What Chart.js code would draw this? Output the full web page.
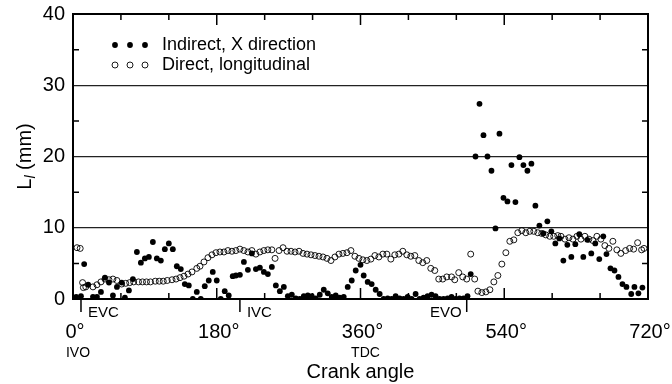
<!DOCTYPE html>
<html>
<head>
<meta charset="utf-8">
<script src="https://cdn.jsdelivr.net/npm/chart.js@4/dist/chart.umd.min.js"></script>
<style>
  body { margin: 0; background: #fff; }
  canvas { display: block; }
</style>
</head>
<body>
<canvas id="lengthChart" width="672" height="384"></canvas>
<script>
// Indirect, X direction (filled dots): crank angle in degrees, length scale in mm
const indirectAngle = [4, 10, 14, 19, 25, 30, 35, 40, 45, 50, 55, 61, 65, 70, 75, 80, 85, 90, 95, 100,
    105, 110, 115, 120, 125, 130, 135, 140, 145, 150, 155, 160, 165, 170, 175, 180, 185, 190, 195, 200,
    204, 209, 214, 219, 224, 229, 234, 239, 244, 249, 254, 259, 264, 269, 274, 279, 284, 289, 294, 299,
    304, 309, 314, 319, 324, 329, 334, 339, 344, 349, 354, 360, 364, 369, 374, 379, 384, 389, 394, 399,
    404, 409, 414, 419, 424, 429, 434, 439, 444, 449, 454, 459, 464, 469, 474, 479, 484, 489, 494, 498,
    504, 509, 514, 519, 524, 529, 534, 539, 544, 549, 554, 559, 564, 569, 574, 579, 584, 589, 594, 599,
    604, 609, 614, 619, 624, 629, 634, 639, 644, 649, 654, 659, 664, 668, 673, 678, 683, 688, 693, 699,
    703, 708, 713];
const indirectL = [0.3, 0.4, 4.9, 2.0, 0.3, 0.3, 1.0, 3.0, 2.3, 0.5, 1.7, 2.3, 0.2, 1.2, 2.8, 6.6, 5.1, 5.7, 5.9, 8.0,
    5.7, 5.4, 7.0, 7.8, 7.0, 4.6, 4.2, 2.1, 1.9, 0.0, 1.0, 0.0, 1.8, 2.6, 3.8, 2.6, 0.0, 1.1, 0.5, 3.2,
    3.3, 3.4, 5.2, 4.1, 6.4, 4.2, 4.4, 3.8, 3.5, 4.5, 1.9, 1.1, 1.7, 0.4, 0.6, 0.1, 0.0, 0.4, 0.5, 0.4,
    0.1, 0.6, 1.3, 0.8, 0.3, 0.5, 0.2, 0.3, 1.7, 2.6, 4.0, 4.8, 3.3, 2.4, 2.1, 1.3, 0.7, 0.0, 0.1, 0.0,
    0.4, 0.1, 0.0, 0.3, 0.0, 0.7, 0.0, 0.2, 0.4, 0.6, 0.4, 0.0, 0.0, 0.1, 0.3, 0.0, 0.1, 0.1, 0.4, 3.5,
    20.0, 27.4, 23.0, 20.0, 18.0, 9.9, 23.2, 14.2, 13.7, 18.8, 13.6, 19.9, 18.8, 18.0, 19.0, 13.1, 10.3, 9.2, 10.9, 9.5,
    7.8, 8.5, 5.4, 7.6, 5.9, 7.7, 9.1, 5.9, 8.3, 6.4, 7.8, 5.6, 8.8, 6.3, 4.3, 4.0, 3.1, 2.1, 1.7, 0.7,
    1.7, 0.8, 1.6];

// Direct, longitudinal (open circles)
const directAngle = [5, 9, 12, 13, 16, 25, 30, 35, 40, 45, 50, 55, 61, 66, 71, 76, 82, 87, 92, 97,
    103, 108, 113, 118, 124, 129, 134, 139, 144, 149, 155, 159, 164, 169, 174, 179, 184, 189, 194, 199,
    204, 209, 214, 219, 224, 229, 234, 239, 244, 249, 253, 258, 263, 268, 273, 278, 283, 288, 293, 298,
    303, 308, 313, 318, 323, 328, 333, 338, 343, 348, 353, 358, 363, 368, 373, 378, 383, 388, 393, 398,
    403, 408, 413, 418, 423, 428, 433, 438, 443, 448, 453, 458, 463, 468, 474, 478, 483, 488, 493, 498,
    503, 507, 512, 517, 522, 527, 532, 537, 542, 547, 552, 557, 562, 567, 572, 577, 582, 587, 592, 597,
    602, 607, 611, 616, 621, 626, 631, 636, 641, 646, 651, 656, 661, 666, 671, 676, 681, 686, 692, 697,
    702, 707, 712, 715];
const directL = [7.2, 7.1, 2.3, 1.6, 1.7, 1.7, 2.0, 2.4, 2.8, 2.7, 2.8, 2.6, 2.1, 2.2, 2.3, 2.4, 2.4, 2.4, 2.4, 2.4,
    2.5, 2.5, 2.5, 2.6, 2.7, 2.8, 3.0, 3.2, 3.5, 3.8, 4.3, 4.6, 5.2, 5.8, 6.2, 6.5, 6.6, 6.6, 6.8, 6.7,
    6.8, 7.0, 6.8, 6.6, 6.8, 6.3, 6.6, 6.8, 6.9, 6.9, 5.7, 6.8, 7.2, 6.7, 6.7, 6.6, 6.7, 6.4, 6.3, 6.2,
    6.1, 6.0, 5.9, 5.7, 5.4, 5.9, 6.3, 6.4, 6.5, 6.8, 6.0, 5.7, 5.5, 5.4, 5.6, 6.1, 5.9, 6.3, 6.3, 5.6,
    6.2, 6.3, 6.7, 6.2, 6.0, 6.1, 5.4, 5.1, 5.4, 4.3, 4.0, 2.8, 2.8, 3.1, 3.1, 2.7, 3.7, 3.1, 2.8, 6.3,
    2.8, 1.1, 0.9, 1.0, 1.3, 2.4, 3.3, 4.9, 6.5, 8.1, 8.3, 9.3, 9.6, 9.3, 9.5, 9.5, 9.3, 9.2, 9.0, 8.8,
    8.8, 8.9, 8.8, 8.4, 8.6, 8.4, 8.8, 8.4, 8.8, 8.4, 8.2, 8.8, 8.4, 7.5, 7.1, 8.1, 6.9, 6.4, 6.8, 7.1,
    7.0, 7.9, 6.9, 7.1];

const seriesNames = ['Indirect, X direction', 'Direct, longitudinal'];

// valve events marked under the axis
const eventNames = ['EVC', 'IVC', 'EVO'];
const eventAngles = [10, 209, 493];
const eventSides = ['right', 'right', 'left'];
const phaseNames = ['IVO', 'TDC'];
const phaseAngles = [0, 360];

const FONT = '"Liberation Sans", Arial, Helvetica, sans-serif';

function toPoints(xs, ys) {
    return xs.map((x, i) => ({ x: x, y: ys[i] }));
}

// frame, inward tick marks, legend, event markers and the y title
const decorations = {
    id: 'decorations',
    afterDraw(chart) {
        const { ctx, chartArea: a, scales: { x, y } } = chart;
        ctx.save();
        ctx.strokeStyle = '#000';
        ctx.fillStyle = '#000';

        // ticks pointing inwards
        ctx.lineWidth = 1.5;
        ctx.beginPath();
        x.ticks.forEach(t => {
            if (t.value <= 0 || t.value >= 720) return;
            const px = x.getPixelForValue(t.value);
            const len = t.value % 180 === 0 ? 11 : 6;
            ctx.moveTo(px, a.bottom);
            ctx.lineTo(px, a.bottom - len);
            ctx.moveTo(px, a.top);
            ctx.lineTo(px, a.top + len);
        });
        y.ticks.forEach(t => {
            if (t.value % 10 === 0) return;
            const py = y.getPixelForValue(t.value);
            ctx.moveTo(a.left, py);
            ctx.lineTo(a.left + 6, py);
            ctx.moveTo(a.right, py);
            ctx.lineTo(a.right - 6, py);
        });
        ctx.stroke();

        // frame
        ctx.lineWidth = 2;
        ctx.strokeRect(a.left, a.top, a.right - a.left, a.bottom - a.top);

        // valve events
        ctx.lineWidth = 1.5;
        ctx.font = '15px ' + FONT;
        ctx.textBaseline = 'middle';
        eventNames.forEach((name, i) => {
            const px = x.getPixelForValue(eventAngles[i]);
            ctx.beginPath();
            ctx.moveTo(px, a.bottom + 1);
            ctx.lineTo(px, a.bottom + 13);
            ctx.stroke();
            if (eventSides[i] === 'right') {
                ctx.textAlign = 'left';
                ctx.fillText(name, px + 7, a.bottom + 14);
            } else {
                ctx.textAlign = 'right';
                ctx.fillText(name, px - 5, a.bottom + 14);
            }
        });
        ctx.font = '14px ' + FONT;
        ctx.textAlign = 'center';
        phaseNames.forEach((name, i) => {
            const px = x.getPixelForValue(phaseAngles[i]);
            ctx.fillText(name, px + 5, 353);
        });

        // legend
        const lx = a.left + 42;
        [0, 1].forEach(i => {
            const ds = chart.data.datasets[i];
            const ly = a.top + 31 + i * 20;
            for (let k = 0; k < 3; k++) {
                ctx.beginPath();
                ctx.arc(lx + k * 15, ly, ds.pointRadius, 0, Math.PI * 2);
                if (i === 0) {
                    ctx.fill();
                } else {
                    ctx.lineWidth = ds.pointBorderWidth;
                    ctx.stroke();
                }
            }
            ctx.font = '18px ' + FONT;
            ctx.textAlign = 'left';
            ctx.fillText(seriesNames[i], lx + 47, ly);
        });

        // y title: L with italic subscript l
        const cy = (a.top + a.bottom) / 2;
        ctx.translate(24, cy);
        ctx.rotate(-Math.PI / 2);
        ctx.textAlign = 'left';
        ctx.textBaseline = 'alphabetic';
        const big = '20px ' + FONT;
        const sub = 'italic 14px ' + FONT;
        ctx.font = big;
        const wL = ctx.measureText('L').width;
        const wRest = ctx.measureText(' (mm)').width;
        ctx.font = sub;
        const wSub = ctx.measureText('l').width;
        let tx = -(wL + wSub + wRest) / 2;
        ctx.font = big;
        ctx.fillText('L', tx, 7);
        tx += wL;
        ctx.font = sub;
        ctx.fillText('l', tx, 11);
        tx += wSub;
        ctx.font = big;
        ctx.fillText(' (mm)', tx, 7);
        ctx.restore();
    }
};

const ctx = document.getElementById('lengthChart').getContext('2d');

const lengthChart = new Chart(ctx, {
    type: 'scatter',
    data: {
        datasets: [{
            label: seriesNames[0],
            data: toPoints(indirectAngle, indirectL),
            pointStyle: 'circle',
            pointRadius: 2.9,
            pointBorderWidth: 0,
            backgroundColor: '#000',
            borderColor: '#000'
        },
        {
            label: seriesNames[1],
            data: toPoints(directAngle, directL),
            pointStyle: 'circle',
            pointRadius: 3,
            pointBorderWidth: 0.9,
            backgroundColor: 'rgba(0,0,0,0)',
            borderColor: '#000'
        }]
    },
    options: {
        responsive: false,
        animation: false,
        devicePixelRatio: 1,
        layout: {
            padding: { top: 14, right: 24, bottom: 0, left: 0 }
        },
        scales: {
            x: {
                type: 'linear',
                min: 0,
                max: 720,
                afterFit: function (scale) {
                    scale.height = 85;
                    scale.paddingLeft = 0;
                    scale.paddingRight = 0;
                },
                ticks: {
                    stepSize: 60,
                    autoSkip: false,
                    maxRotation: 0,
                    padding: 21,
                    labelOffset: 2,
                    color: '#000',
                    font: { family: FONT, size: 20 },
                    callback: function (value) {
                        return value % 180 === 0 ? value + '°' : '';
                    }
                },
                grid: { display: false, drawTicks: false },
                border: { display: false },
                title: {
                    display: true,
                    text: 'Crank angle',
                    color: '#000',
                    padding: 0,
                    font: { family: FONT, size: 20 }
                }
            },
            y: {
                min: 0,
                max: 40,
                afterFit: function (scale) {
                    scale.width = 73;
                    scale.paddingTop = 0;
                    scale.paddingBottom = 0;
                },
                ticks: {
                    stepSize: 5,
                    autoSkip: false,
                    padding: 8,
                    color: '#000',
                    font: { family: FONT, size: 20 },
                    callback: function (value) {
                        return value % 10 === 0 ? String(value) : '';
                    }
                },
                grid: {
                    drawTicks: false,
                    lineWidth: 1.2,
                    color: function (c) {
                        const v = c.tick.value;
                        return (v % 10 === 0 && v > 0 && v < 40) ? '#222' : 'rgba(0,0,0,0)';
                    }
                },
                border: { display: false }
            }
        },
        plugins: {
            legend: { display: false },
            tooltip: { enabled: false }
        }
    },
    plugins: [decorations]
});
</script>
</body>
</html>
